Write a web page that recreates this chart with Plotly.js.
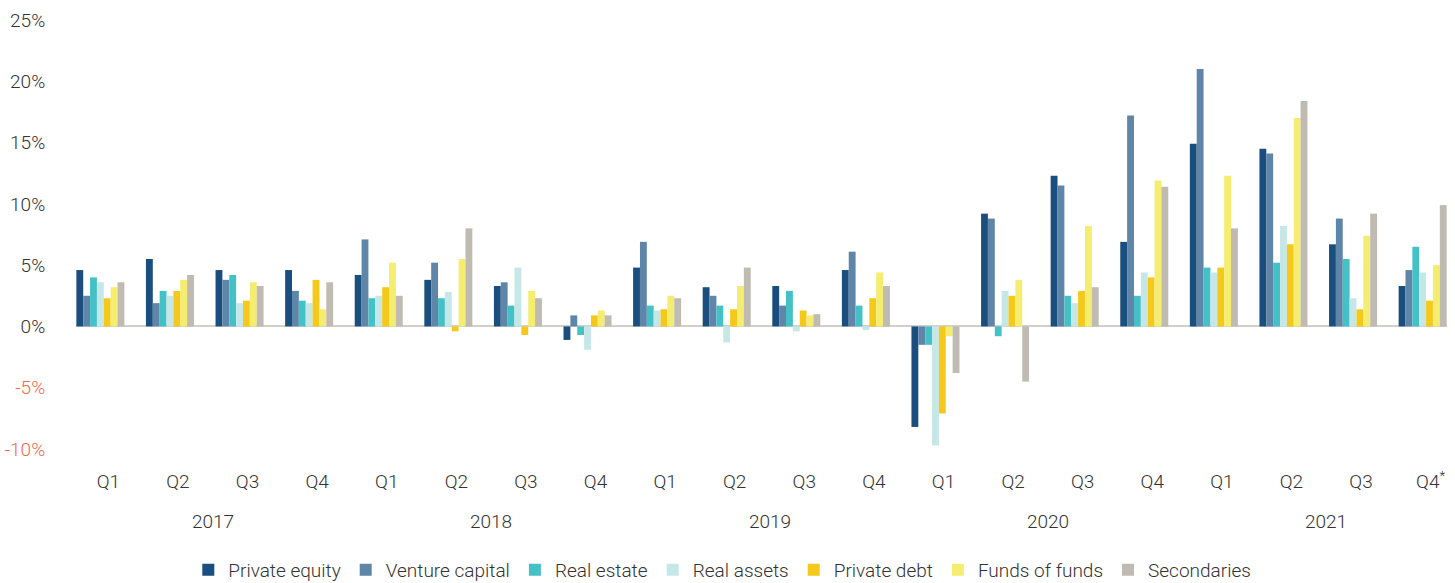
<!DOCTYPE html>
<html>
<head>
<meta charset="utf-8">
<script src="https://cdn.plot.ly/plotly-3.0.1.min.js"></script>
<style>
html,body{margin:0;padding:0;background:#fff;}
#chart{width:1455px;height:583px;}
</style>
</head>
<body>
<div id="chart"></div>
<script>
// ---- data ----
var quarterLabels = ['Q1','Q2','Q3','Q4','Q1','Q2','Q3','Q4','Q1','Q2','Q3','Q4','Q1','Q2','Q3','Q4','Q1','Q2','Q3','Q4<sup>*</sup>'];
var quarterYears  = [2017,2017,2017,2017,2018,2018,2018,2018,2019,2019,2019,2019,2020,2020,2020,2020,2021,2021,2021,2021];
var yearLabels = ['2017','2018','2019','2020','2021'];

var seriesNames = ['Private equity','Venture capital','Real estate','Real assets','Private debt','Funds of funds','Secondaries'];

var privateEquity  = [4.6, 5.5, 4.6, 4.6, 4.2, 3.8, 3.3, -1.1, 4.8, 3.2, 3.3, 4.6, -8.2, 9.2, 12.3, 6.9, 14.9, 14.5, 6.7, 3.3];
var ventureCapital = [2.5, 1.9, 3.8, 2.9, 7.1, 5.2, 3.6, 0.9, 6.9, 2.5, 1.7, 6.1, -1.5, 8.8, 11.5, 17.2, 21.0, 14.1, 8.8, 4.6];
var realEstate     = [4.0, 2.9, 4.2, 2.1, 2.3, 2.3, 1.7, -0.7, 1.7, 1.7, 2.9, 1.7, -1.5, -0.8, 2.5, 2.5, 4.8, 5.2, 5.5, 6.5];
var realAssets     = [3.6, 2.5, 1.9, 1.9, 2.5, 2.8, 4.8, -1.9, 1.3, -1.3, -0.4, -0.3, -9.7, 2.9, 1.9, 4.4, 4.4, 8.2, 2.3, 4.4];
var privateDebt    = [2.3, 2.9, 2.1, 3.8, 3.2, -0.4, -0.7, 0.9, 1.4, 1.4, 1.3, 2.3, -7.1, 2.5, 2.9, 4.0, 4.8, 6.7, 1.4, 2.1];
var fundsOfFunds   = [3.2, 3.8, 3.6, 1.4, 5.2, 5.5, 2.9, 1.3, 2.5, 3.3, 0.9, 4.4, -0.8, 3.8, 8.2, 11.9, 12.3, 17.0, 7.4, 5.0];
var secondaries    = [3.6, 4.2, 3.3, 3.6, 2.5, 8.0, 2.3, 0.9, 2.3, 4.8, 1.0, 3.3, -3.8, -4.5, 3.2, 11.4, 8.0, 18.4, 9.2, 9.9];

var seriesColors = ['#1a4e7e','#5f86a8','#44c1c7','#c6e7e8','#f5c91b','#f4ed70','#bfbab2'];

var yTickVals = [-10,-5,0,5,10,15,20,25];

// ---- build ----
var seriesValues = [privateEquity, ventureCapital, realEstate, realAssets, privateDebt, fundsOfFunds, secondaries];
var idx = quarterLabels.map(function(_, i){ return i; });

var traces = seriesNames.map(function(name, s){
  return {
    type:'bar', name:name, x:idx, y:seriesValues[s],
    marker:{color:seriesColors[s], line:{width:0}},
    hoverinfo:'name+y'
  };
});

var yTickText = yTickVals.map(function(v){
  var t = v + '%';
  return v < 0 ? '<span style="color:#f0694e">' + t + '</span>' : t;
});

var fontFam = 'Roboto, "Liberation Sans", sans-serif';
var textColor = '#333333';
var fontSize = 19;

var annotations = yearLabels.map(function(y){
  var pos = [];
  quarterYears.forEach(function(qy, i){ if (String(qy) === y) pos.push(i); });
  var center = pos.reduce(function(a,b){return a+b;},0) / pos.length;
  return {
    x:center, xref:'x', y:-0.170, yref:'paper', yanchor:'middle',
    text:y, showarrow:false, xshift:8,
    font:{family:fontFam, size:fontSize, color:textColor, weight:300}
  };
});

var layout = {
  width:1455, height:583,
  margin:{l:76, r:8, t:20, b:134, autoexpand:false},
  paper_bgcolor:'#ffffff', plot_bgcolor:'#ffffff',
  barmode:'group', bargap:0.31, bargroupgap:0,
  font:{family:fontFam, size:fontSize, color:textColor, weight:300},
  showlegend:true,
  legend:{orientation:'h', x:0.4714, xanchor:'center', xref:'paper',
          y:1 - 570/583, yref:'container', yanchor:'middle',
          font:{family:fontFam, size:fontSize, color:textColor, weight:300}, traceorder:'normal'},
  xaxis:{
    range:[-0.35, 19.35], tickmode:'array', tickvals:idx, ticktext:quarterLabels,
    showgrid:false, zeroline:false, showline:false,
    ticks:'outside', ticklen:15, tickcolor:'rgba(0,0,0,0)',
    ticklabelshift:8,
    tickfont:{family:fontFam, size:fontSize, color:textColor, weight:300}
  },
  yaxis:{
    range:[-10, 25], tickmode:'array', tickvals:yTickVals, ticktext:yTickText,
    showgrid:false, zeroline:true, zerolinecolor:'#d3cfcb', zerolinewidth:2,
    showline:false, ticks:'outside', ticklen:26, tickcolor:'rgba(0,0,0,0)',
    tickfont:{family:fontFam, size:fontSize, color:textColor, weight:300}
  },
  annotations:annotations
};

Plotly.newPlot('chart', traces, layout, {displayModeBar:false, staticPlot:true});
</script>
</body>
</html>
